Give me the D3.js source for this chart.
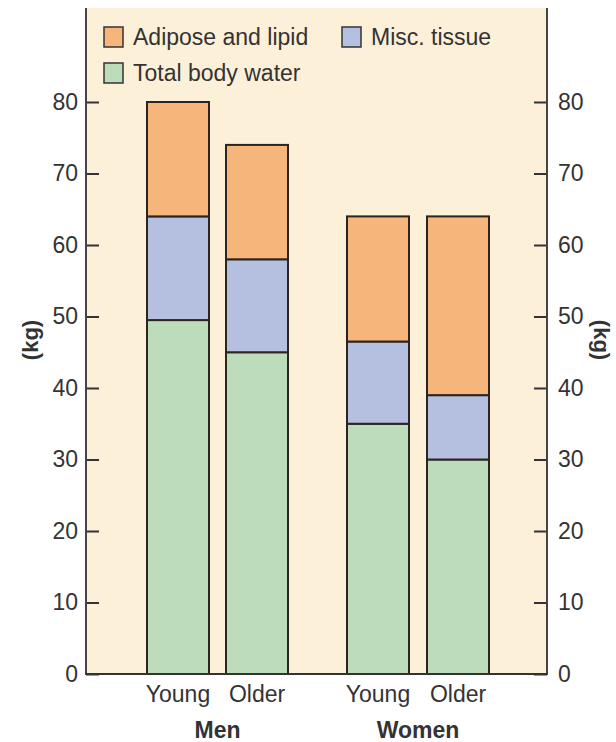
<!DOCTYPE html>
<html><head><meta charset="utf-8">
<script src="https://cdn.jsdelivr.net/npm/d3@7"></script>
<style>body{margin:0;background:#fff}svg{display:block;font-family:"Liberation Sans",Arial,sans-serif}</style>
</head><body><svg id="c" width="616" height="742"></svg>
<script>
const bars = ["Men Young","Men Older","Women Young","Women Older"];
const barLabels = ["Young","Older","Young","Older"];
const groups = ["Men","Women"];
const water = [49.5,45,35,30];
const misc = [14.5,13,11.5,9];
const adipose = [16,16,17.5,25];
const seriesNames = ["Total body water","Misc. tissue","Adipose and lipid"];
const yTicks = [0,10,20,30,40,50,60,70,80];

const colors = {"Total body water":"#bddcbc","Misc. tissue":"#b5c0e0","Adipose and lipid":"#f6b57b"};
const svg = d3.select("#c");
const L=86, R=547, T=8, B=674;
const y = d3.scaleLinear().domain([0,80]).range([B,102]);
const centers = [178,257,378,458];
const xc = d3.scaleOrdinal().domain(bars).range(centers);
const bw = 62;
const FS = 23, TXT = "#333";

svg.append("rect").attr("x",L).attr("y",T).attr("width",R-L).attr("height",B-T).attr("fill","#fdf0d9");

const data = bars.map((b,i)=>({bar:b,"Total body water":water[i],"Misc. tissue":misc[i],"Adipose and lipid":adipose[i]}));
const stack = d3.stack().keys(seriesNames)(data);
stack.forEach(s=>{
  svg.append("g").selectAll("rect").data(s).join("rect")
    .attr("x",d=>xc(d.data.bar)-bw/2).attr("width",bw)
    .attr("y",d=>y(d[1])).attr("height",d=>y(d[0])-y(d[1]))
    .attr("fill",colors[s.key]).attr("stroke","#2b2420").attr("stroke-width",2);
});

// axes
const axL = d3.axisLeft(y).tickValues(yTicks).tickSize(-13).tickPadding(8);
const gL = svg.append("g").attr("transform",`translate(${L},0)`).call(axL);
const axR = d3.axisRight(y).tickValues(yTicks).tickSize(-13).tickPadding(11);
const gR = svg.append("g").attr("transform",`translate(${R},0)`).call(axR);
[gL,gR].forEach(g=>{
  g.select(".domain").remove();
  g.selectAll("line").attr("stroke","#333").attr("stroke-width",2);
  g.selectAll("text").attr("font-size",FS).attr("fill",TXT).attr("font-family","Liberation Sans, Arial, sans-serif");
});
svg.append("line").attr("x1",L).attr("x2",L).attr("y1",T).attr("y2",B+1).attr("stroke","#444").attr("stroke-width",2);
svg.append("line").attr("x1",R).attr("x2",R).attr("y1",T).attr("y2",B+1).attr("stroke","#444").attr("stroke-width",2);
svg.append("line").attr("x1",L).attr("x2",R).attr("y1",B).attr("y2",B).attr("stroke","#333").attr("stroke-width",2);

// axis titles
svg.append("text").attr("transform","translate(38,340) rotate(-90)").attr("text-anchor","middle")
  .attr("font-size",22).attr("font-weight","bold").attr("fill",TXT).text("(kg)");
svg.append("text").attr("transform","translate(594,340) rotate(90)").attr("text-anchor","middle")
  .attr("font-size",22).attr("font-weight","bold").attr("fill",TXT).text("(kg)");

// category labels
svg.append("g").selectAll("text").data(bars).join("text")
  .attr("x",d=>xc(d)).attr("y",702).attr("text-anchor","middle").attr("font-size",FS).attr("fill",TXT)
  .text((d,i)=>barLabels[i]);
const gc = [ (centers[0]+centers[1])/2, (centers[2]+centers[3])/2 ];
svg.append("g").selectAll("text").data(groups).join("text")
  .attr("x",(d,i)=>gc[i]).attr("y",738).attr("text-anchor","middle").attr("font-size",FS).attr("font-weight","bold").attr("fill",TXT)
  .text(d=>d);

// legend
const leg = [{k:"Adipose and lipid",x:104,y:27},{k:"Misc. tissue",x:342,y:27},{k:"Total body water",x:104,y:63}];
leg.forEach(l=>{
  svg.append("rect").attr("x",l.x).attr("y",l.y).attr("width",19).attr("height",20).attr("fill",colors[l.k]).attr("stroke","#333").attr("stroke-width",1.5);
  svg.append("text").attr("x",l.x+29).attr("y",l.y+18).attr("font-size",FS).attr("fill",TXT).text(l.k);
});
</script></body></html>
